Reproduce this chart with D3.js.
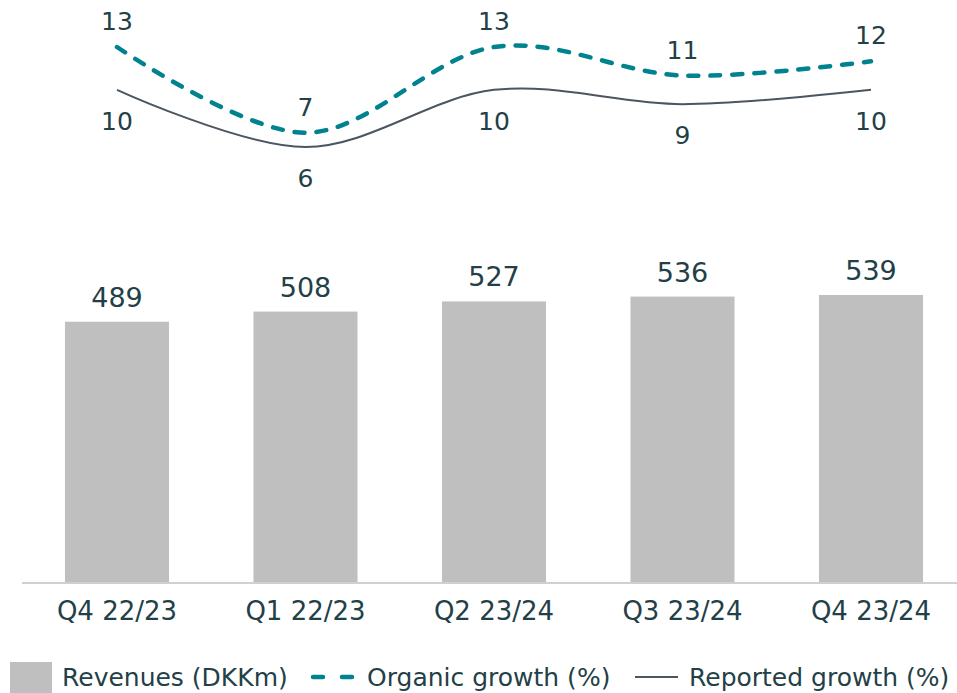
<!DOCTYPE html>
<html>
<head>
<meta charset="utf-8">
<script src="https://cdn.jsdelivr.net/npm/d3@7"></script>
<style>
  html, body { margin: 0; padding: 0; background: #fff; }
  svg { display: block; }
  text { font-family: "DejaVu Sans", sans-serif; fill: #233f47; }
</style>
</head>
<body>
<svg id="chart" width="957" height="693"></svg>
<script>
const categories = ["Q4 22/23", "Q1 22/23", "Q2 23/24", "Q3 23/24", "Q4 23/24"];
const revenues = [489, 508, 527, 536, 539];
const organicGrowth = [13, 7, 13, 11, 12];
const reportedGrowth = [10, 6, 10, 9, 10];
const legendLabels = ["Revenues (DKKm)", "Organic growth (%)", "Reported growth (%)"];

const svg = d3.select("#chart");
const textColor = "#233f47";
const barColor = "#bfbfbf";
const teal = "#00838f";
const gray = "#4b5660";
const font = "'DejaVu Sans', sans-serif";

const x = d3.scaleBand().domain(categories).range([22.75, 965.25]).paddingInner(0.448).paddingOuter(0.224);
const yBar = d3.scaleLinear().domain([0, 539]).range([583, 295]);
const yLine = d3.scaleLinear().domain([6, 13]).range([147, 47]);
const cx = c => x(c) + x.bandwidth() / 2;

// Bars
svg.append("g").selectAll("rect").data(revenues).join("rect")
  .attr("x", (d, i) => x(categories[i]))
  .attr("y", d => yBar(d))
  .attr("width", x.bandwidth())
  .attr("height", d => yBar(0) - yBar(d))
  .attr("fill", barColor);

svg.append("g").selectAll("text").data(revenues).join("text")
  .attr("x", (d, i) => cx(categories[i]))
  .attr("y", d => yBar(d) - 15)
  .attr("text-anchor", "middle")
  .attr("font-size", 27)
  .text(d => d);

// Axis
const axis = svg.append("g").attr("transform", "translate(0,583)")
  .call(d3.axisBottom(x).tickSize(0).tickPadding(19));
axis.select(".domain").attr("stroke", "#d0d0d0").attr("stroke-width", 2)
  .attr("d", "M22,0H957");
axis.selectAll("text").attr("font-size", 26).attr("fill", textColor)
  .style("font-family", font);

// Lines
const line = d3.line()
  .x((d, i) => cx(categories[i]))
  .y(d => yLine(d))
  .curve(d3.curveCatmullRom.alpha(0));

svg.append("path").datum(reportedGrowth)
  .attr("d", line).attr("fill", "none")
  .attr("stroke", gray).attr("stroke-width", 2);

svg.append("path").datum(organicGrowth)
  .attr("d", line).attr("fill", "none")
  .attr("stroke", teal).attr("stroke-width", 4.5)
  .attr("stroke-linecap", "round")
  .attr("stroke-dasharray", "10 12");

svg.append("g").selectAll("text").data(organicGrowth).join("text")
  .attr("x", (d, i) => cx(categories[i]))
  .attr("y", d => yLine(d) - 17)
  .attr("text-anchor", "middle")
  .attr("font-size", 25)
  .text(d => d);

svg.append("g").selectAll("text").data(reportedGrowth).join("text")
  .attr("x", (d, i) => cx(categories[i]))
  .attr("y", d => yLine(d) + 40)
  .attr("text-anchor", "middle")
  .attr("font-size", 25)
  .text(d => d);

// Legend
const lg = svg.append("g");
lg.append("rect").attr("x", 10).attr("y", 662).attr("width", 42).attr("height", 40).attr("fill", barColor);
lg.append("text").attr("x", 62).attr("y", 686).attr("font-size", 25).text(legendLabels[0]);
lg.append("line").attr("x1", 313).attr("x2", 355).attr("y1", 677).attr("y2", 677)
  .attr("stroke", teal).attr("stroke-width", 4.5).attr("stroke-linecap", "round")
  .attr("stroke-dasharray", "10 19");
lg.append("text").attr("x", 367).attr("y", 686).attr("font-size", 25).text(legendLabels[1]);
lg.append("line").attr("x1", 635).attr("x2", 678).attr("y1", 677).attr("y2", 677)
  .attr("stroke", gray).attr("stroke-width", 2);
lg.append("text").attr("x", 689).attr("y", 686).attr("font-size", 25).text(legendLabels[2]);
</script>
</body>
</html>
